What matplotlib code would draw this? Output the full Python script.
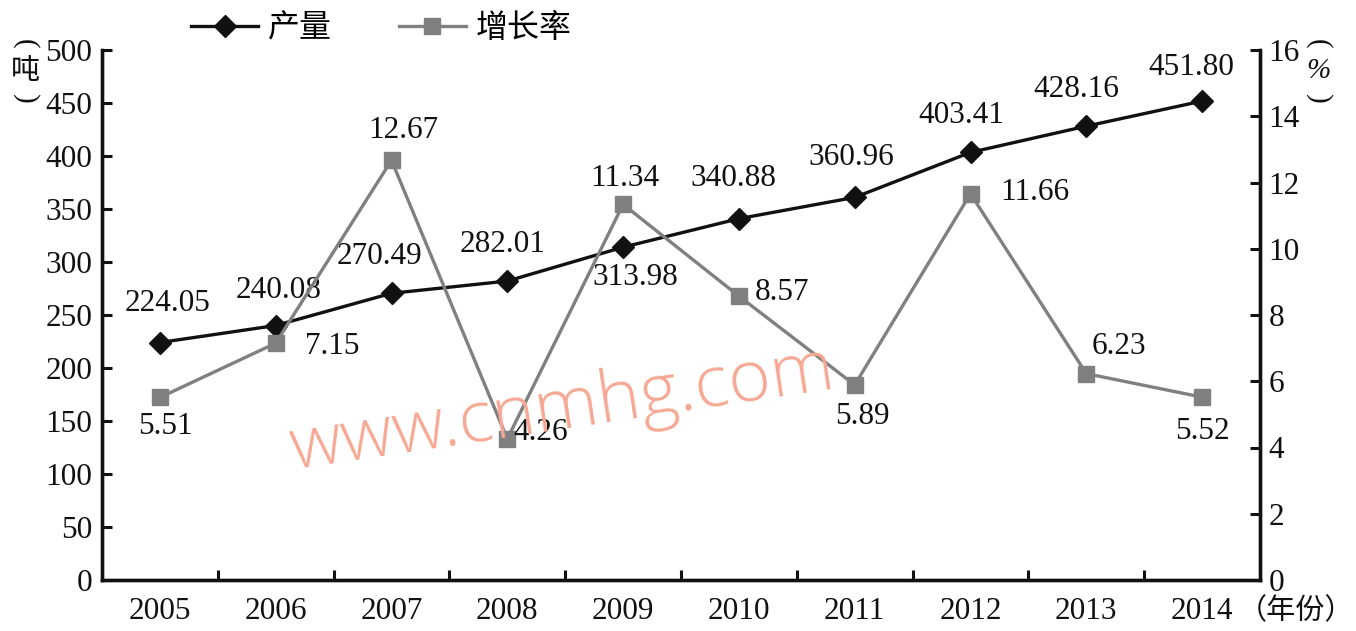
import numpy as np
import matplotlib
matplotlib.use("Agg")
import matplotlib.pyplot as plt

plt.rcParams['font.family'] = ['Liberation Serif', 'Noto Sans CJK SC']

#Data
years = ["2005", "2006", "2007", "2008", "2009", "2010", "2011", "2012", "2013", "2014"]
output = [224.05, 240.08, 270.49, 282.01, 313.98, 340.88, 360.96, 403.41, 428.16, 451.80]
growth = [5.51, 7.15, 12.67, 4.26, 11.34, 8.57, 5.89, 11.66, 6.23, 5.52]

#Label offsets in pixels (dx, dy up)
out_off = [(8, 39), (3, 35), (-12, 37), (-5, 37), (12, -30), (-6, 40), (-3, 40), (-9, 37), (-10, 37), (-11, 34)]
gr_off = [(6, -29), (57, -3), (12, 30), (33, 6), (2, 26), (43, 4), (8, -32), (64, 1), (33, 27), (0, -34)]

fs = 22.5
ink = '#111111'
grey = '#808080'

fig = plt.figure(figsize=(13.56, 6.31), dpi=100)
ax = fig.add_axes([102/1356, 1-580/631, (1260-102)/1356, 530/631])
ax2 = ax.twinx()

x = np.arange(len(years))
l1, = ax.plot(x, output, color=ink, lw=2.4, marker='D', ms=11, label='产量')
l2, = ax2.plot(x, growth, color=grey, lw=2.4, marker='s', ms=11.5, label='增长率')

for i in range(len(x)):
    ax.annotate(f"{output[i]:.2f}", (x[i], output[i]), xytext=out_off[i],
                textcoords='offset pixels', ha='center', va='center', fontsize=fs, color=ink)
    ax2.annotate(f"{growth[i]:.2f}", (x[i], growth[i]), xytext=gr_off[i],
                 textcoords='offset pixels', ha='center', va='center', fontsize=fs, color=ink)

ax.set_xlim(-0.5, 9.5)
ax.set_ylim(0, 500)
ax2.set_ylim(0, 16)
ax.set_yticks(np.arange(0, 501, 50))
ax2.set_yticks(np.arange(0, 17, 2))
ax.set_xticks(x)
ax.set_xticklabels(years)
ax.set_xticks(x[:-1] + 0.5, minor=True)

for a in (ax, ax2):
    a.spines['top'].set_visible(False)
    for s in ('left', 'right', 'bottom'):
        a.spines[s].set_linewidth(2.4)
        a.spines[s].set_color(ink)

ax.tick_params(axis='x', which='major', length=0, pad=12, labelsize=fs, colors=ink)
ax.tick_params(axis='x', which='minor', direction='in', length=7, width=2.2, color=ink)
ax.tick_params(axis='y', direction='in', length=7, width=2.2, pad=7, labelsize=fs, colors=ink)
ax2.tick_params(axis='y', direction='in', length=7, width=2.2, pad=6, labelsize=fs, colors=ink)

#Axis unit labels (vertical brackets)
for xp, mid in ((25, "吨"), (1318, "%")):
    fig.text(xp/1356, 1-44/631, "(", rotation=-90, ha='center', va='center', fontsize=21, color=ink)
    fig.text(xp/1356, 1-71/631, mid, ha='center', va='center', fontsize=21,
             family=['Noto Sans CJK SC'] if mid == "吨" else ['Liberation Serif'],
             style='normal' if mid == "吨" else 'italic', color=ink)
    fig.text(xp/1356, 1-99/631, ")", rotation=-90, ha='center', va='center', fontsize=21, color=ink)
fig.text(1238/1356, 1-611/631, "（年份）", ha='left', va='center', fontsize=21,
         family=['Noto Sans CJK SC'], color=ink)

#Legend
fig.legend([l1, l2], ['产量', '增长率'], loc='center left', bbox_to_anchor=(175/1356, 1-28/631),
           ncol=2, frameon=False, handlelength=2.1, handletextpad=0.3, columnspacing=2.1,
           borderpad=0, prop={'family': 'Noto Sans CJK SC', 'size': 23})

#Watermark
fig.text(563/1356, 1-410/631, "www.cnmhg.com", ha='center', va='center', fontsize=52,
         family='Open Sans', fontweight=300, color='#F5A893', rotation=8.5, zorder=10)

fig.savefig("out.png", dpi=100)
